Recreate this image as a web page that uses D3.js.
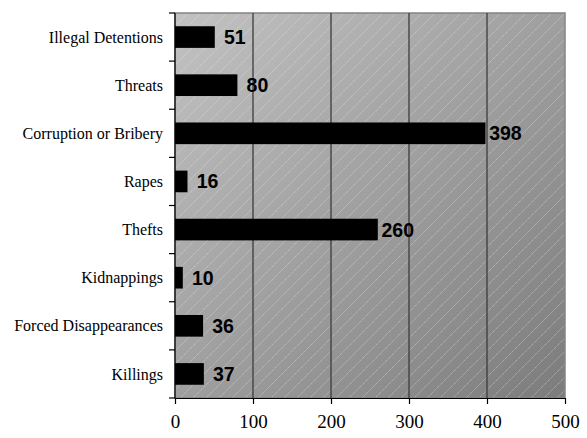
<!DOCTYPE html>
<html>
<head>
<meta charset="utf-8">
<script src="https://cdn.jsdelivr.net/npm/d3@7"></script>
<style>
  html, body { margin: 0; padding: 0; background: #fff; }
  svg { display: block; }
</style>
</head>
<body>
<svg id="chart" width="587" height="438"></svg>
<script>
// Reported abuses, by type (top to bottom)
const categories = [
  "Illegal Detentions", "Threats", "Corruption or Bribery", "Rapes",
  "Thefts", "Kidnappings", "Forced Disappearances", "Killings"
];
const counts = [51, 80, 398, 16, 260, 10, 36, 37];
const xTicks = [0, 100, 200, 300, 400, 500];

const svg = d3.select("#chart");
const margin = { top: 13, right: 22, bottom: 40, left: 175 };
const W = 587, H = 438;
const innerW = W - margin.left - margin.right;
const innerH = H - margin.top - margin.bottom;

const x = d3.scaleLinear().domain([0, 500]).range([0, innerW]);
const y = d3.scaleBand().domain(categories).range([0, innerH]).paddingInner(0.55).paddingOuter(0.275);

const defs = svg.append("defs");
const grad = defs.append("linearGradient").attr("id", "bg")
  .attr("x1", "0%").attr("y1", "0%").attr("x2", "100%").attr("y2", "100%");
grad.append("stop").attr("offset", "0%").attr("stop-color", "#c2c2c2");
grad.append("stop").attr("offset", "100%").attr("stop-color", "#7c7c7c");

const hatch = defs.append("pattern").attr("id", "hatch")
  .attr("patternUnits", "userSpaceOnUse").attr("width", 13).attr("height", 13);
hatch.append("path").attr("d", "M-1,14 L14,-1")
  .attr("stroke", "#ececec").attr("stroke-width", 0.8).attr("stroke-opacity", 0.6)
  .attr("stroke-dasharray", "1.2,0.8");

const g = svg.append("g").attr("transform", `translate(${margin.left},${margin.top})`);

// plot area: gradient fill, hatching, grey frame
g.append("rect").attr("width", innerW).attr("height", innerH).attr("fill", "url(#bg)");
g.append("rect").attr("width", innerW).attr("height", innerH).attr("fill", "url(#hatch)");
g.append("rect").attr("width", innerW).attr("height", innerH)
  .attr("fill", "none").attr("stroke", "#848484").attr("stroke-width", 1.5);

// vertical gridlines
g.selectAll(".grid").data(xTicks.filter(d => d > 0 && d < 500)).enter()
  .append("line")
  .attr("x1", d => x(d)).attr("x2", d => x(d))
  .attr("y1", 0).attr("y2", innerH)
  .attr("stroke", "#3c3c3c").attr("stroke-width", 1.3);

// bars
g.selectAll(".bar").data(counts).enter().append("rect")
  .attr("x", 0)
  .attr("y", (d, i) => y(categories[i]))
  .attr("width", d => x(d))
  .attr("height", y.bandwidth())
  .attr("fill", "#000");

// value labels, centred a fixed distance past the bar end
g.selectAll(".val").data(counts).enter().append("text")
  .attr("x", d => x(d) + 20)
  .attr("y", (d, i) => y(categories[i]) + y.bandwidth() / 2)
  .attr("dy", "0.36em")
  .attr("text-anchor", "middle")
  .attr("font-family", "Liberation Sans, Arial, sans-serif")
  .attr("font-weight", "bold")
  .attr("font-size", 19.5)
  .attr("fill", "#000")
  .text(d => d);

// y axis: line with ticks at band boundaries
const yAxis = g.append("g");
yAxis.append("line").attr("x1", 0).attr("x2", 0).attr("y1", 0).attr("y2", innerH)
  .attr("stroke", "#000").attr("stroke-width", 1.2);
const step = innerH / categories.length;
yAxis.selectAll(".yt").data(d3.range(categories.length + 1)).enter().append("line")
  .attr("x1", -6).attr("x2", 0)
  .attr("y1", i => i * step).attr("y2", i => i * step)
  .attr("stroke", "#000").attr("stroke-width", 1.2);
yAxis.selectAll(".yl").data(categories).enter().append("text")
  .attr("x", -12)
  .attr("y", d => y(d) + y.bandwidth() / 2)
  .attr("dy", "0.35em")
  .attr("text-anchor", "end")
  .attr("font-family", "Liberation Serif, Times New Roman, serif")
  .attr("font-size", 16)
  .attr("fill", "#000")
  .text(d => d);

// x axis
const xAxis = g.append("g").attr("transform", `translate(0,${innerH})`)
  .call(d3.axisBottom(x).tickValues(xTicks).tickSize(6).tickSizeOuter(0).tickPadding(11));
xAxis.select(".domain").attr("stroke", "#000").attr("stroke-width", 1.2);
xAxis.selectAll(".tick line").attr("stroke", "#000").attr("stroke-width", 1.2);
xAxis.selectAll(".tick text")
  .attr("font-family", "Liberation Serif, Times New Roman, serif")
  .attr("font-size", 19)
  .attr("fill", "#000");
</script>
</body>
</html>
